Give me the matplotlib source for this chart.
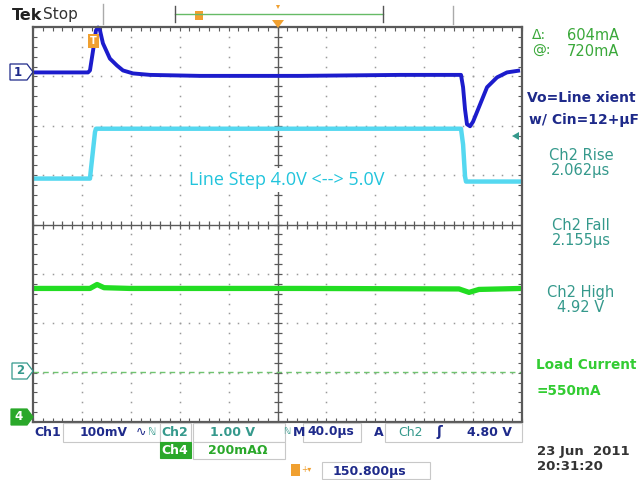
import matplotlib
matplotlib.use("Agg")
import matplotlib.pyplot as plt
from matplotlib.patches import Rectangle, Polygon

W, H = 641, 480
fig = plt.figure(figsize=(W / 100, H / 100), dpi=100)
fig.patch.set_facecolor("white")

# Scope settings
T_DIV = 40.0        # µs / div
CH1_SCALE = 100.0   # mV / div
CH2_SCALE = 1.0     # V / div
CH4_SCALE = 200.0   # mA / div
CH1_POS = 3.08      # ground marker positions (div from centre)
CH2_POS = -2.98
CH4_POS = -3.89

# Ch1: output voltage, AC coupled (mV)
ch1_t = [0, 45.0, 46.6, 49.1, 51.5, 53.2, 54.8, 57.2, 62.9, 68.7, 73.6, 81.8,
         95.7, 136.6, 218.4, 300.2, 350.1, 351.8, 353.4, 355.0, 357.5, 359.9,
         363.2, 367.3, 371.4, 379.6, 387.7, 398.4]
ch1_mv = [0, 0, 4, 44, 85, 91, 85, 59, 28, 14, 4, -2,
          -5, -7, -7, -5, -5, -30, -75, -105, -109, -100,
          -80, -55, -30, -10, 0, 4]

# Ch2: line voltage (V)
ch2_t = [0, 46.6, 47.4, 50.7, 51.5, 350.1, 351.8, 353.4, 354.2, 400]
ch2_v = [3.91, 3.91, 4.10, 4.85, 4.92, 4.92, 4.60, 3.95, 3.85, 3.85]

# Ch4: load current (mA)
ch4_t = [0, 46.6, 52.4, 58.1, 79.3, 218.4, 348.5, 356.7, 364.8, 400]
ch4_ma = [519, 519, 535, 522, 519, 519, 517, 503, 515, 519]

BLUE = "#1c1ccc"
CYAN = "#55d8f0"
GREEN = "#22dd22"
NAVY = "#1e2a8a"
TEAL = "#35998c"
LGREEN = "#3aa83a"
ORANGE = "#f0a030"


def P(x, y):
    return (x / W, 1 - y / H)


# ---------- graticule ----------
ax = fig.add_axes([33 / W, 1 - 422 / H, 489 / W, 395 / H])
ax.set_xlim(0, 10 * T_DIV)
ax.set_ylim(-4, 4)
ax.set_facecolor("white")
for s in ax.spines.values():
    s.set_color("#5a5a5a")
    s.set_linewidth(1.6)
ax.set_xticks([i * T_DIV for i in range(11)])
ax.set_xticks([i * T_DIV / 5 for i in range(51)], minor=True)
ax.set_yticks(range(-4, 5))
ax.set_yticks([i / 5 for i in range(-20, 21)], minor=True)
ax.tick_params(which="both", direction="in", length=3, width=0.8, color="#5a5a5a",
               top=True, right=True, labelleft=False, labelbottom=False)

dot_x, dot_y = [], []
for i in range(1, 10):
    if i == 5:
        continue
    for k in range(41):
        dot_x.append(i * T_DIV)
        dot_y.append(-4 + k / 5)
for j in range(-3, 4):
    if j == 0:
        continue
    for k in range(51):
        dot_x.append(k * T_DIV / 5)
        dot_y.append(j)
ax.plot(dot_x, dot_y, ls="none", marker="s", ms=1.1, color="#9a9a9a", mec="none")

ax.axhline(0, color="#5a5a5a", lw=1.0)
ax.axvline(5 * T_DIV, color="#5a5a5a", lw=1.0)
tx = [k * T_DIV / 5 for k in range(51)]
ax.plot(tx, [0] * len(tx), ls="none", marker="|", ms=6, mew=0.9, color="#5a5a5a")
ty = [-4 + k / 5 for k in range(41)]
ax.plot([5 * T_DIV] * len(ty), ty, ls="none", marker="_", ms=6, mew=0.9, color="#5a5a5a")

# Ch2 ground reference (dashed)
ax.axhline(CH2_POS, color="#70c470", lw=1.0, ls=(0, (4, 3)))

# ---------- traces ----------
ax.plot(ch4_t, [CH4_POS + v / CH4_SCALE for v in ch4_ma], color=GREEN, lw=3.8,
        solid_capstyle="butt", clip_on=False)
ax.plot(ch2_t, [CH2_POS + v / CH2_SCALE for v in ch2_v], color=CYAN, lw=3.2,
        solid_capstyle="butt", clip_on=False)
ax.plot(ch1_t, [CH1_POS + v / CH1_SCALE for v in ch1_mv], color=BLUE, lw=2.8,
        solid_capstyle="butt", clip_on=False)

ax.text(207.5, 0.9, "Line Step 4.0V <--> 5.0V", color="#22c4dc",
        fontsize=13, family="Open Sans", ha="center", va="center",
        bbox=dict(facecolor="white", edgecolor="none", pad=2))

# ---------- top bar ----------
fig.text(*P(12, 15), "Tek", fontsize=11.5, weight="bold", color="#222", va="center")
fig.text(*P(43, 15), "Stop", fontsize=11, color="#333", va="center")
fig.add_artist(plt.Line2D([103 / W, 103 / W], [1 - 4 / H, 1 - 24 / H], color="#aaa", lw=1))
fig.add_artist(plt.Line2D([453 / W, 453 / W], [1 - 6 / H, 1 - 24 / H], color="#aaa", lw=1))
fig.add_artist(plt.Line2D([175 / W, 383 / W], [1 - 14 / H] * 2, color="#66bb66", lw=1))
fig.add_artist(plt.Line2D([175 / W, 175 / W], [1 - 6 / H, 1 - 22 / H], color="#555", lw=1))
fig.add_artist(plt.Line2D([383 / W, 383 / W], [1 - 6 / H, 1 - 22 / H], color="#555", lw=1))
fig.add_artist(Rectangle(P(195, 20), 8 / W, 9 / H, facecolor=ORANGE, edgecolor="none"))
fig.add_artist(Polygon([P(272, 20), P(284, 20), P(278, 28)], closed=True,
                       facecolor=ORANGE, edgecolor="none"))
fig.add_artist(Polygon([P(276, 5), P(280, 5), P(278, 9)], closed=True,
                       facecolor=ORANGE, edgecolor="none"))
fig.add_artist(Rectangle(P(88, 48), 11 / W, 14 / H, facecolor=ORANGE, edgecolor="none"))
fig.text(*P(93.5, 41), "T", fontsize=7, weight="bold", color="white", ha="center", va="center")

# ---------- channel markers ----------
fig.add_artist(Polygon([P(10, 64), P(27, 64), P(33, 72), P(27, 80), P(10, 80)], closed=True,
                       facecolor="white", edgecolor=NAVY, lw=0.9))
fig.text(*P(18, 72), "1", fontsize=8.5, weight="bold", color=NAVY, ha="center", va="center")
fig.add_artist(Polygon([P(12, 363), P(27, 363), P(33, 371), P(27, 379), P(12, 379)], closed=True,
                       facecolor="white", edgecolor=TEAL, lw=0.9))
fig.text(*P(20, 371), "2", fontsize=8.5, weight="bold", color=TEAL, ha="center", va="center")
fig.add_artist(Polygon([P(11, 409), P(27, 409), P(33, 417), P(27, 425), P(11, 425)], closed=True,
                       facecolor="#2aa82a", edgecolor="#2aa82a", lw=0.9))
fig.text(*P(19, 417), "4", fontsize=8.5, weight="bold", color="white", ha="center", va="center")
fig.add_artist(Polygon([P(512, 136), P(519, 132), P(519, 140)], closed=True,
                       facecolor=TEAL, edgecolor="none"))

# ---------- right panel ----------
fig.text(*P(532, 35), "Δ:", fontsize=10, color=LGREEN, va="center")
fig.text(*P(567, 35), "604mA", fontsize=10.5, color=LGREEN, va="center")
fig.text(*P(532, 51), "@:", fontsize=10, color=LGREEN, va="center")
fig.text(*P(567, 51), "720mA", fontsize=10.5, color=LGREEN, va="center")
fig.text(*P(527, 98), "Vo=Line xient", fontsize=10, weight="bold", color=NAVY, va="center")
fig.text(*P(529, 120), "w/ Cin=12+µF", fontsize=10, weight="bold", color=NAVY, va="center")
for yy, lab in [(155, "Ch2 Rise"), (171, "2.062µs"), (226, "Ch2 Fall"), (241, "2.155µs"),
                (293, "Ch2 High"), (308, "4.92 V")]:
    fig.text(*P(581, yy), lab, fontsize=10.5, color=TEAL, ha="center", va="center")
fig.text(*P(536, 365), "Load Current", fontsize=9.8, weight="bold", color="#33cc33", va="center")
fig.text(*P(536, 391), "=550mA", fontsize=9.8, weight="bold", color="#33cc33", va="center")
fig.text(*P(537, 452), "23 Jun  2011", fontsize=9.5, weight="bold", color="#333", va="center")
fig.text(*P(537, 467), "20:31:20", fontsize=9.5, weight="bold", color="#333", va="center")

# ---------- bottom bar ----------
def box(x0, y0, x1, y1, fc="white", ec="#c8c8c8"):
    fig.add_artist(Rectangle(P(x0, y1), (x1 - x0) / W, (y1 - y0) / H,
                             facecolor=fc, edgecolor=ec, lw=0.8))

box(63, 423, 160, 442)
box(160, 423, 191, 442)
box(193, 423, 285, 442)
box(303, 423, 361, 442)
box(385, 423, 522, 442)
box(160, 442, 191, 458, fc="#2aa82a", ec="#2aa82a")
box(193, 442, 285, 459)
box(322, 462, 430, 479)

fig.text(*P(34, 432), "Ch1", fontsize=9, weight="bold", color=NAVY, va="center")
fig.text(*P(80, 432), "100mV", fontsize=8.8, weight="bold", color=NAVY, va="center")
fig.text(*P(136, 432), "∿", fontsize=9, color=NAVY, va="center")
fig.text(*P(148, 432), "ℕ", fontsize=7.5, color=TEAL, va="center")
fig.text(*P(161, 432), "Ch2", fontsize=9, weight="bold", color=TEAL, va="center")
fig.text(*P(210, 432), "1.00 V", fontsize=9, weight="bold", color=TEAL, va="center")
fig.text(*P(283, 432), "ℕ", fontsize=6.5, color=TEAL, va="center")
fig.text(*P(292.5, 432), "M", fontsize=9, weight="bold", color=NAVY, va="center")
fig.text(*P(307, 432), "40.0µs", fontsize=8.8, weight="bold", color=NAVY, va="center")
fig.text(*P(374, 432), "A", fontsize=9, weight="bold", color=NAVY, va="center")
fig.text(*P(398, 432), "Ch2", fontsize=9, color=TEAL, va="center")
fig.text(*P(436, 432), "ʃ", fontsize=10, weight="bold", color=NAVY, va="center")
fig.text(*P(467, 432), "4.80 V", fontsize=9, weight="bold", color=NAVY, va="center")
fig.text(*P(161, 450), "Ch4", fontsize=9, weight="bold", color="white", va="center")
fig.text(*P(208, 450), "200mAΩ", fontsize=9, weight="bold", color="#2aa82a", va="center")
fig.add_artist(Rectangle(P(291, 476), 9 / W, 12 / H, facecolor=ORANGE, edgecolor="none"))
fig.text(*P(301, 470), "+▾", fontsize=5.5, color=ORANGE, va="center")
fig.text(*P(333, 472), "150.800µs", fontsize=9, weight="bold", color=NAVY, va="center")

fig.savefig("out.png", dpi=100, facecolor="white")
